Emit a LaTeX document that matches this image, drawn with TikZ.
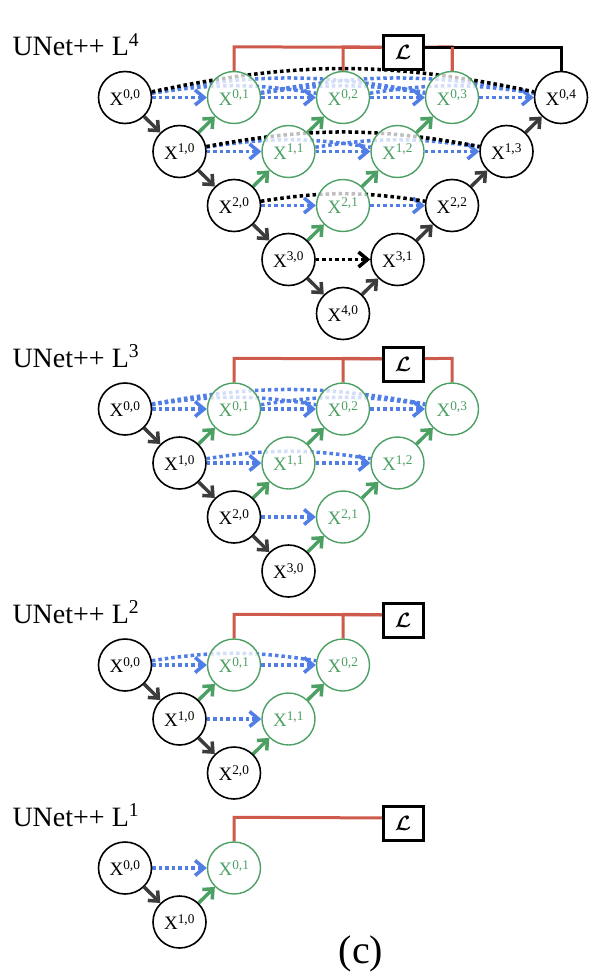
\documentclass[tikz,border=0pt]{standalone}
\usepackage{amsmath}
\usepackage{fontspec}
\setmainfont{Liberation Serif}
\usetikzlibrary{arrows.meta,shapes.geometric,backgrounds}
\definecolor{ngreen}{RGB}{76,160,100}
\definecolor{nblue}{RGB}{80,125,230}
\definecolor{lred}{RGB}{205,90,75}
\definecolor{agray}{RGB}{60,60,60}

\begin{document}
\begin{tikzpicture}[x=1pt,y=-1pt,
  xnode/.style={ellipse,draw,line width=1.6pt,minimum width=53pt,minimum height=52pt,inner sep=0pt,fill=white,fill opacity=0.75,text opacity=1,font=\fontsize{19}{22}\selectfont},
  gnode/.style={xnode,draw=ngreen,text=ngreen,line width=1.4pt},
  downarr/.style={draw=agray,line width=3.5pt,-{Straight Barb[length=8pt,width=14pt]}},
  uparr/.style={downarr,draw=ngreen},
  skipline/.style={draw=nblue,line width=3.5pt,dash pattern=on 3.5pt off 3pt},
  skiparr/.style={skipline,-{Straight Barb[length=9pt,width=15pt]}},
  lossbox/.style={draw,line width=3pt,fill=white,minimum width=40pt,minimum height=34pt,inner sep=0pt,font=\fontsize{20}{22}\selectfont},
  lossline/.style={draw=lred,line width=3pt},
  heading/.style={anchor=base west,font=\fontsize{28}{32}\selectfont}]
\useasboundingbox (0,0) rectangle (602,974);
\foreach \lev/\ybase/\gmax in {4/97.5/3,3/409/3,2/665/2,1/868/1}{
  \node[heading] (head\lev) at (9,\ybase-42) {UNet++ L\textsuperscript{\lev}};
  \coordinate (bus\lev) at (403,\ybase-50);
  % encoder column
  \foreach \row in {0,...,\lev}{
    \node[xnode] (x\lev-\row-0) at (125+54.5*\row,\ybase+54*\row) {X\textsuperscript{\row,0}};
  }
  % nested nodes
  \pgfmathtruncatemacro\rmax{\gmax-1}
  \foreach \row in {0,...,\rmax}{
    \pgfmathtruncatemacro\cmax{\gmax-\row}
    \foreach \col in {1,...,\cmax}{
      \node[gnode] (x\lev-\row-\col) at (125+54.5*\row+109*\col,\ybase+54*\row) {X\textsuperscript{\row,\col}};
    }
  }
  \begin{scope}[on background layer]
    \foreach \row in {1,...,\lev}{
      \pgfmathtruncatemacro\up{\row-1}
      \draw[downarr] (x\lev-\up-0) -- (x\lev-\row-0);
    }
    \foreach \row in {0,...,\rmax}{
      \pgfmathtruncatemacro\cmax{\gmax-\row}
      \pgfmathtruncatemacro\dn{\row+1}
      \foreach \col in {1,...,\cmax}{
        \pgfmathtruncatemacro\prv{\col-1}
        \draw[uparr] (x\lev-\dn-\prv) -- (x\lev-\row-\col);
        \draw[skiparr] (x\lev-\row-\prv) -- (x\lev-\row-\col);
        \ifnum\col>1
          \pgfmathtruncatemacro\smax{\col-2}
          \foreach \src in {0,...,\smax}{
            \pgfmathsetmacro\bnd{6+1.5*(\col-\src)}
            \draw[skipline] (x\lev-\row-\src) to[bend left=\bnd] (x\lev-\row-\col);
          }
        \fi
      }
    }
    % deep supervision
    \draw[lossline] (x\lev-0-1.north) -- ++(0,-24) -- (bus\lev);
    \ifnum\gmax>1
      \foreach \col in {2,...,\gmax}{
        \draw[lossline] (x\lev-0-\col.north) -- ++(0,-24) -- (bus\lev);
      }
    \fi
  \end{scope}
  \node[lossbox] (loss\lev) at (403,\ybase-45) {$\boldsymbol{\mathcal{L}}$};
}
% decoder of the full UNet++ L^4
\foreach \row in {0,...,3}{
  \pgfmathtruncatemacro\col{4-\row}
  \node[xnode] (x4-\row-\col) at (125+54.5*\row+109*\col,97.5+54*\row) {X\textsuperscript{\row,\col}};
}
\begin{scope}[on background layer]
  \foreach \row/\col/\dn/\prv in {0/4/1/3,1/3/2/2,2/2/3/1,3/1/4/0}{
    \draw[downarr] (x4-\dn-\prv) -- (x4-\row-\col);
  }
  \foreach \row/\src/\col in {0/3/4,1/2/3,2/1/2}{
    \draw[skiparr] (x4-\row-\src) -- (x4-\row-\col);
  }
  \draw[skiparr,draw=black] (x4-3-0) -- (x4-3-1);
  \foreach \row/\src/\col in {0/1/4,0/2/4,1/1/3}{
    \pgfmathsetmacro\bnd{6+1.5*(\col-\src)}
    \draw[skipline] (x4-\row-\src) to[bend left=\bnd] (x4-\row-\col);
  }
  \foreach \row/\col in {0/4,1/3,2/2}{
    \pgfmathsetmacro\bnd{6+1.5*\col}
    \draw[skipline,draw=black] (x4-\row-0) to[bend left=\bnd] (x4-\row-\col);
  }
  \draw[line width=3pt] (bus4) -- ++(158,0) -- (x4-0-4.north);
  \draw[lossline] (x4-0-3.north) -- ++(0,-24);
\end{scope}
\node[font=\fontsize{40}{44}\selectfont,anchor=base] (cap) at (361,963) {(c)};
\end{tikzpicture}
\end{document}
